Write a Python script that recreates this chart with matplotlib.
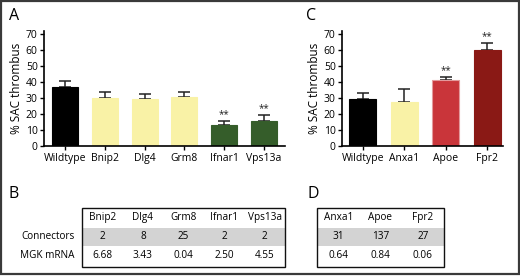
import matplotlib
matplotlib.use("Agg")
import matplotlib.pyplot as plt
from matplotlib.patches import Rectangle

plt.rcParams['font.family'] = ['Open Sans', 'DejaVu Sans']

# ---- data ----
a_labels = ["Wildtype", "Bnip2", "Dlg4", "Grm8", "Ifnar1", "Vps13a"]
a_values = [36.7, 30.0, 29.4, 30.8, 13.3, 15.6]
a_err = [3.8, 3.5, 3.3, 2.9, 2.3, 3.8]
a_colors = ["#000000", "#f9f2a6", "#f9f2a6", "#f9f2a6", "#355d2a", "#355d2a"]
a_sig = ["", "", "", "", "**", "**"]

c_labels = ["Wildtype", "Anxa1", "Apoe", "Fpr2"]
c_values = [29.6, 27.7, 41.4, 60.4]
c_err = [3.7, 8.1, 1.7, 4.0]
c_colors = ["#000000", "#f9f2a6", "#c9353a", "#8a1915"]
c_edges = ["#000000", "#f9f2a6", "#e39a9c", "#8a1915"]
c_sig = ["", "", "**", "**"]

yticks = [0, 10, 20, 30, 40, 50, 60, 70]
ylabel = "% SAC thrombus"

b_cols = ["Bnip2", "Dlg4", "Grm8", "Ifnar1", "Vps13a"]
b_connectors = ["2", "8", "25", "2", "2"]
b_mrna = ["6.68", "3.43", "0.04", "2.50", "4.55"]
row_labels = ["Connectors", "MGK mRNA"]

d_cols = ["Anxa1", "Apoe", "Fpr2"]
d_connectors = ["31", "137", "27"]
d_mrna = ["0.64", "0.84", "0.06"]

W, H = 520, 276
fig = plt.figure(figsize=(W / 100, H / 100), dpi=100)

def px_axes(x0, y0, x1, y1, **kw):
    return fig.add_axes([x0 / W, 1 - y1 / H, (x1 - x0) / W, (y1 - y0) / H], **kw)

def bar_panel(ax, labels, values, err, colors, edges, sig, xlim):
    x = list(range(len(labels)))
    ax.bar(x, values, width=0.66, color=colors, edgecolor=edges, linewidth=0.8, zorder=2)
    ax.errorbar(x, values, yerr=[[0] * len(err), err], fmt="none", ecolor="#222222",
                elinewidth=1.1, capsize=4.2, capthick=1.1, zorder=1)
    for xi, v, e, s in zip(x, values, err, sig):
        if s:
            ax.text(xi, v + e + 0.6, s, ha="center", va="bottom", fontsize=7, color="#222222")
    ax.set_xlim(*xlim)
    ax.set_ylim(0, 72)
    ax.set_yticks(yticks)
    ax.set_xticks(x)
    ax.set_xticklabels(labels, fontsize=7.5)
    ax.tick_params(axis="y", labelsize=7.5, length=3, width=1, pad=1.5)
    ax.tick_params(axis="x", length=3, width=1, pad=2)
    for s in ["top", "right"]:
        ax.spines[s].set_visible(False)
    for s in ["left", "bottom"]:
        ax.spines[s].set_linewidth(1.2)
    ax.set_ylabel(ylabel, fontsize=8.5, labelpad=2)

axA = px_axes(44, 31, 285, 146)
bar_panel(axA, a_labels, a_values, a_err, a_colors, a_colors, a_sig, (-0.54, 5.54))
axC = px_axes(342, 31, 503, 146)
bar_panel(axC, c_labels, c_values, c_err, c_colors, c_edges, c_sig, (-0.5, 3.38))

for t, xx, yy in [("A", 14, 16), ("C", 311, 16), ("B", 14, 194), ("D", 313, 194)]:
    fig.text(xx / W, 1 - yy / H, t, fontsize=11.5, ha="center", va="center")

# tables in pixel coordinates
tax = fig.add_axes([0, 0, 1, 1])
tax.set_xlim(0, W)
tax.set_ylim(H, 0)
tax.axis("off")

def draw_table(x0, x1, cols, r1, r2, labels=None):
    top, hb, gb, bot = 207.5, 228, 245.5, 266.5
    tax.add_patch(Rectangle((x0, hb), x1 - x0, gb - hb, facecolor="#d3d3d3", edgecolor="none"))
    tax.add_patch(Rectangle((x0, top), x1 - x0, bot - top, facecolor="none",
                            edgecolor="#111111", linewidth=1.0))
    n = len(cols)
    step = (x1 - x0) / n
    for i in range(n):
        cx = x0 + step * (i + 0.5)
        tax.text(cx, (top + hb) / 2, cols[i], ha="center", va="center", fontsize=7.2)
        tax.text(cx, (hb + gb) / 2, r1[i], ha="center", va="center", fontsize=7.2)
        tax.text(cx, (gb + bot) / 2, r2[i], ha="center", va="center", fontsize=7.2)
    if labels:
        tax.text(x0 - 7, (hb + gb) / 2, labels[0], ha="right", va="center", fontsize=7.2)
        tax.text(x0 - 7, (gb + bot) / 2, labels[1], ha="right", va="center", fontsize=7.2)

draw_table(82, 285, b_cols, b_connectors, b_mrna, row_labels)
draw_table(317, 444, d_cols, d_connectors, d_mrna)

tax.add_patch(Rectangle((1, 1), W - 2, H - 3, facecolor="none", edgecolor="#3a3a3a", linewidth=1.6))

fig.savefig("out.png", dpi=100)
